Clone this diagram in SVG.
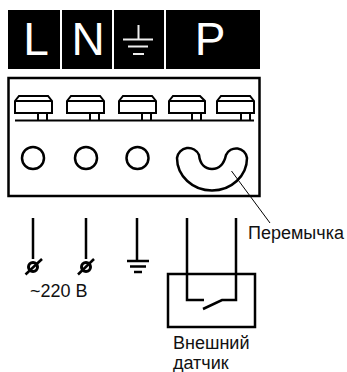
<svg xmlns="http://www.w3.org/2000/svg" width="347" height="372" viewBox="0 0 347 372">
<style>
.b{fill:#000}
.l{fill:#fff;font-family:"Liberation Sans",Arial,sans-serif;font-size:46px;text-anchor:middle}
.t{fill:#111;font-family:"Liberation Sans",Arial,sans-serif;font-size:18px}
.s{fill:none;stroke:#000;stroke-width:2.5;stroke-linejoin:miter}
.w{fill:none;stroke:#000;stroke-width:2.500}
.m{fill:none;stroke:#000;stroke-width:2}
.wl{fill:none;stroke:#eee;stroke-width:2}
</style>
<g id="header">
<rect class="b" x="8" y="10" width="52" height="59"/>
<rect class="b" x="62" y="10" width="50" height="59"/>
<rect class="b" x="114" y="10" width="50" height="59"/>
<rect class="b" x="166" y="10" width="94" height="59"/>
<text class="l" x="36" y="55">L</text>
<text class="l" x="88" y="55">N</text>
<text class="l" x="210" y="55">P</text>
<path class="wl" d="M138.500 25V39M123 39.500H153M128 46.500H148M133 54H144"/>
</g>
<g id="terminal-block">
<rect class="s" x="8.500" y="78" width="251" height="118"/>
<path class="m" d="M15 120.500H254"/>
<g id="t1"><path class="m" d="M15 113V101L19 96H48L52 101V113Z M15 101H52 M38 113V120M47 113V120"/></g>
<g id="t2"><path class="m" d="M67 113V101L71 96H100L104 101V113Z M67 101H104 M90 113V120M99 113V120"/></g>
<g id="t3"><path class="m" d="M119 113V101L123 96H152L156 101V113Z M119 101H156 M142 113V120M151 113V120"/></g>
<g id="t4"><path class="m" d="M169 113V101L173 96H200L205 101V113Z M169 101H205 M192 113V120M201 113V120"/></g>
<g id="t5"><path class="m" d="M217 113V101L221 96H250L254 101V113Z M217 101H254 M241 113V120M250 113V120"/></g>
<circle class="w" cx="33" cy="158" r="11"/>
<circle class="w" cx="86" cy="158" r="11"/>
<circle class="w" cx="137.500" cy="158" r="11"/>
<path id="jumper" class="w" d="M177 158A11.500 11.500 0 0 1 199 155C200 164 205 169 212 169C219 169 224 164 226 155A11 11 0 0 1 247 158A35 32.500 0 0 1 177 158Z"/>
</g>
<g id="connectors">
<path class="w" d="M33 218V259M86 218V259M137 218V261M187 218V300H204M236 218V300H222L203 309"/>
<path class="w" d="M127 261H149M130 266.500H146M134 272H142"/>
<path d="M231.500 171L270 223" fill="none" stroke="#000" stroke-width="1"/>
</g>
<g id="fuse1" transform="translate(33,267)"><path class="w" d="M-7.500 7.500L9 -8"/><circle cx="0" cy="0" r="4.500" fill="none" stroke="#000" stroke-width="3"/></g>
<g id="fuse2" transform="translate(86,267)"><path class="w" d="M-8 7.500L8 -8"/><circle cx="0" cy="0" r="4.500" fill="none" stroke="#000" stroke-width="3"/></g>
<g id="sensor"><rect class="s" x="168" y="274" width="87" height="53"/></g>
<g id="labels">
<text class="t" x="248" y="239">Перемычка</text>
<text class="t" x="30" y="297">~220 В</text>
<text class="t" x="173" y="349">Внешний</text>
<text class="t" x="173" y="369">датчик</text>
</g>
</svg>
